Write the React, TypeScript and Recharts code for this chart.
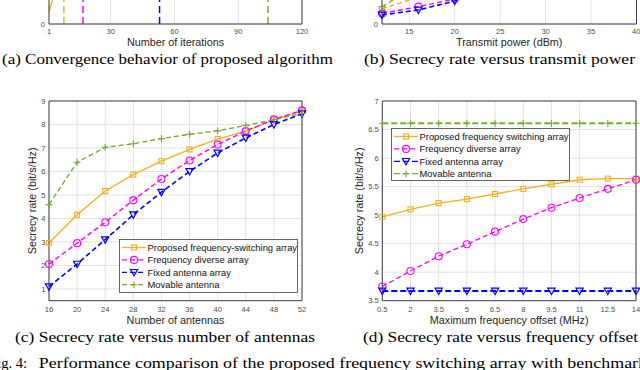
import React from "react";
import { LineChart, Line, XAxis, YAxis, CartesianGrid, ReferenceLine, Legend } from "recharts";

const ORANGE = "#EDB120";
const MAGENTA = "#FF00FF";
const BLUE = "#0000FF";
const GREEN = "#77AC30";
const AXIS = "#404040";
const GRID = "#e2e2e2";
const SANS = "'Liberation Sans', Arial, Helvetica, sans-serif";
const SERIF = "'Liberation Serif', 'Times New Roman', serif";

// (a) convergence behaviour (only the bottom strip is on the page)
const iterTicks = [1, 30, 60, 90, 120];
const iterations = [1, 2, 3, 4, 5, 6, 7, 8, 120];
const convProposed = [0.6, 0.95, 1.35, 2.4, 3.6, 4.5, 5.0, 5.2, 5.2];
const convergedAt = [8, 17, 53, 104];
const convergedColors = [ORANGE, MAGENTA, BLUE, GREEN];
const convYTicks = [0];

// (b) secrecy rate vs transmit power (bottom strip only)
const powerDbm = [12, 16, 20, 24, 28, 32, 36, 40];
const powerTicks = [15, 20, 25, 30, 35, 40];
const powerProposed = [0.75, 1.35, 2.1, 2.9, 3.8, 4.7, 5.6, 6.5];
const powerFda = [0.53, 0.87, 1.25, 1.9, 2.7, 3.6, 4.5, 5.4];
const powerFixed = [0.45, 0.7, 1.15, 1.8, 2.6, 3.5, 4.4, 5.3];
const powerMovable = [0.87, 1.95, 3.0, 4.0, 5.0, 6.0, 7.0, 7.9];
const powerYTicks = [0];

// (c) secrecy rate vs number of antennas
const antennas = [16, 20, 24, 28, 32, 36, 40, 44, 48, 52];
const antProposed = [2.96, 4.16, 5.17, 5.87, 6.44, 6.94, 7.38, 7.72, 8.2, 8.57];
const antFda = [2.06, 2.95, 3.84, 4.78, 5.68, 6.47, 7.15, 7.72, 8.22, 8.6];
const antFixed = [1.1, 2.06, 3.1, 4.16, 5.12, 6.0, 6.79, 7.43, 8.0, 8.46];
const antMovable = [4.59, 6.39, 7.03, 7.18, 7.4, 7.58, 7.73, 7.96, 8.2, 8.47];
const antYTicks = [1, 2, 3, 4, 5, 6, 7, 8, 9];

// (d) secrecy rate vs maximum frequency offset
const offsetMHz = [0.5, 2, 3.5, 5, 6.5, 8, 9.5, 11, 12.5, 14];
const offProposed = [4.97, 5.1, 5.21, 5.28, 5.37, 5.46, 5.54, 5.62, 5.64, 5.64];
const offFda = [3.75, 4.02, 4.28, 4.49, 4.71, 4.93, 5.13, 5.3, 5.46, 5.62];
const offFixed = [3.67, 3.67, 3.67, 3.67, 3.67, 3.67, 3.67, 3.67, 3.67, 3.67];
const offMovable = [6.61, 6.61, 6.61, 6.61, 6.61, 6.61, 6.61, 6.61, 6.61, 6.61];
const offYTicks = [3.5, 4, 4.5, 5, 5.5, 6, 6.5, 7];

type Shape = "square" | "circle" | "triangle" | "plus";
type SeriesDef = { key: string; label: string; color: string; shape: Shape; dash?: string; width: number };

const antSeries: SeriesDef[] = [
  { key: "proposed", label: "Proposed frequency-switching array", color: ORANGE, shape: "square", width: 1.4 },
  { key: "fda", label: "Frequency diverse array", color: MAGENTA, shape: "circle", dash: "5 3", width: 1.4 },
  { key: "fixed", label: "Fixed antenna array", color: BLUE, shape: "triangle", dash: "5 3", width: 1.6 },
  { key: "movable", label: "Movable antenna", color: GREEN, shape: "plus", dash: "5 3", width: 1.4 },
];

const offSeries: SeriesDef[] = [
  { key: "proposed", label: "Proposed frequency switching array", color: ORANGE, shape: "square", width: 1.4 },
  { key: "fda", label: "Frequency diverse array", color: MAGENTA, shape: "circle", dash: "5 3", width: 1.3 },
  { key: "fixed", label: "Fixed antenna array", color: BLUE, shape: "triangle", dash: "6 3", width: 2 },
  { key: "movable", label: "Movable antenna", color: GREEN, shape: "plus", dash: "6 3", width: 2 },
];

const powerSeries: SeriesDef[] = [
  { key: "proposed", label: "Proposed", color: ORANGE, shape: "square", dash: "5 3", width: 1.4 },
  { key: "fda", label: "FDA", color: MAGENTA, shape: "circle", dash: "5 3", width: 1.4 },
  { key: "fixed", label: "Fixed", color: BLUE, shape: "triangle", dash: "5 3", width: 1.6 },
  { key: "movable", label: "Movable", color: GREEN, shape: "plus", dash: "5 3", width: 1.4 },
];

const convData = iterations.map((it, i) => ({ x: it, proposed: convProposed[i] }));
const powerData = powerDbm.map((p, i) => ({
  x: p, proposed: powerProposed[i], fda: powerFda[i], fixed: powerFixed[i], movable: powerMovable[i],
}));
const antData = antennas.map((n, i) => ({
  x: n, proposed: antProposed[i], fda: antFda[i], fixed: antFixed[i], movable: antMovable[i],
}));
const offData = offsetMHz.map((f, i) => ({
  x: f, proposed: offProposed[i], fda: offFda[i], fixed: offFixed[i], movable: offMovable[i],
}));

function Marker({ shape, x, y, color }: { shape: Shape; x: number; y: number; color: string }) {
  if (shape === "square")
    return <rect x={x - 2.5} y={y - 2.5} width={5} height={5} fill="none" stroke={color} strokeWidth={1.1} />;
  if (shape === "circle") return <circle cx={x} cy={y} r={3.5} fill="none" stroke={color} strokeWidth={1.1} />;
  if (shape === "triangle")
    return (
      <path
        d={`M${x - 3.6},${y - 2.8}L${x + 3.6},${y - 2.8}L${x},${y + 3.6}Z`}
        fill="none"
        stroke={color}
        strokeWidth={1.2}
      />
    );
  return <path d={`M${x - 3.5},${y}H${x + 3.5}M${x},${y - 3.5}V${y + 3.5}`} stroke={color} strokeWidth={1.1} />;
}

function LegendBox({ items, width, height }: { items: SeriesDef[]; width: number; height: number }) {
  const rowH = 12.4;
  return (
    <svg width={width} height={height} style={{ display: "block" }}>
      <rect x={0.5} y={0.5} width={width - 1} height={height - 1} fill="#fff" stroke={AXIS} strokeWidth={0.8} />
      {items.map((s, i) => {
        const y = 8.5 + i * rowH;
        return (
          <g key={s.key}>
            <line x1={3} x2={27} y1={y} y2={y} stroke={s.color} strokeWidth={1.3} strokeDasharray={s.dash} />
            <Marker shape={s.shape} x={15} y={y} color={s.color} />
            <text x={28.5} y={y} dominantBaseline="central" fontSize={9.4} fontFamily={SANS} fill="#111">
              {s.label}
            </text>
          </g>
        );
      })}
    </svg>
  );
}

const tickStyle = { fontSize: 7.6, fill: "#4d4d4d", fontFamily: SANS };
const labelStyle = { fontSize: 10.8, fill: "#262626", fontFamily: SANS };

function renderLines(defs: SeriesDef[]) {
  return defs.map((s) => (
    <Line
      key={s.key}
      type="linear"
      dataKey={s.key}
      stroke={s.color}
      strokeWidth={s.width}
      strokeDasharray={s.dash}
      isAnimationActive={false}
      activeDot={false}
      dot={(p: any) => <Marker key={`${s.key}-${p.index}`} shape={s.shape} x={p.cx} y={p.cy} color={s.color} />}
    />
  ));
}

function ConvergenceChart() {
  return (
    <LineChart width={320} height={240} data={convData} margin={{ top: 14, right: 18, bottom: 0, left: 0 }}>
      <CartesianGrid stroke={GRID} />
      <XAxis
        type="number"
        dataKey="x"
        domain={[1, 120]}
        ticks={iterTicks}
        height={26}
        tickSize={0}
        tickMargin={5}
        tick={tickStyle}
        axisLine={{ stroke: AXIS }}
        label={{ value: "Number of iterations", position: "insideBottom", offset: 4, ...labelStyle }}
      />
      <YAxis
        type="number"
        domain={[0, 10]}
        ticks={convYTicks}
        width={49}
        tickSize={0}
        tickMargin={4}
        tick={tickStyle}
        axisLine={{ stroke: AXIS }}
      />
      {convergedAt.map((it, i) => (
        <ReferenceLine key={it} x={it} stroke={convergedColors[i]} strokeWidth={1.5} strokeDasharray="7 4" />
      ))}
      <ReferenceLine x={120} stroke={AXIS} />
      <Line
        type="linear"
        dataKey="proposed"
        stroke={ORANGE}
        strokeWidth={1.4}
        dot={false}
        activeDot={false}
        isAnimationActive={false}
      />
    </LineChart>
  );
}

function PowerChart() {
  return (
    <LineChart width={320} height={240} data={powerData} margin={{ top: 14, right: 3.5, bottom: 0, left: 0 }}>
      <CartesianGrid stroke={GRID} />
      <XAxis
        type="number"
        dataKey="x"
        domain={[12, 40]}
        ticks={powerTicks}
        height={26}
        tickSize={0}
        tickMargin={5}
        tick={tickStyle}
        axisLine={{ stroke: AXIS }}
        label={{ value: "Transmit power (dBm)", position: "insideBottom", offset: 4, ...labelStyle }}
      />
      <YAxis
        type="number"
        domain={[0, 10]}
        ticks={powerYTicks}
        width={62}
        tickSize={0}
        tickMargin={4}
        tick={tickStyle}
        axisLine={{ stroke: AXIS }}
      />
      <ReferenceLine x={40} stroke={AXIS} />
      {renderLines(powerSeries)}
    </LineChart>
  );
}

function AntennaChart() {
  return (
    <LineChart width={320} height={240} data={antData} margin={{ top: 11, right: 18, bottom: 0, left: 0 }}>
      <CartesianGrid stroke={GRID} />
      <XAxis
        type="number"
        dataKey="x"
        domain={[16, 52]}
        ticks={antennas}
        height={29.3}
        tickSize={0}
        tickMargin={5.5}
        tick={tickStyle}
        axisLine={{ stroke: AXIS }}
        label={{ value: "Number of antennas", position: "insideBottom", offset: 6, ...labelStyle }}
      />
      <YAxis
        type="number"
        domain={[0.5, 9]}
        ticks={antYTicks}
        width={49}
        tickSize={0}
        tickMargin={3.5}
        tick={tickStyle}
        axisLine={{ stroke: AXIS }}
        label={{
          value: "Secrecy rate (bit/s/Hz)",
          angle: -90,
          position: "insideLeft",
          offset: 32,
          ...labelStyle,
          style: { textAnchor: "middle" },
        }}
      />
      <ReferenceLine x={52} stroke={AXIS} />
      <ReferenceLine y={9} stroke={AXIS} />
      {renderLines(antSeries)}
      <Legend
        layout="vertical"
        align="center"
        verticalAlign="middle"
        wrapperStyle={{ left: 119, top: 149, width: 179, height: 54 }}
        content={() => <LegendBox items={antSeries} width={179} height={54} />}
      />
    </LineChart>
  );
}

function OffsetChart() {
  return (
    <LineChart width={320} height={240} data={offData} margin={{ top: 11, right: 4, bottom: 0, left: 0 }}>
      <CartesianGrid stroke={GRID} />
      <XAxis
        type="number"
        dataKey="x"
        domain={[0.5, 14]}
        ticks={offsetMHz}
        height={29.3}
        tickSize={0}
        tickMargin={5.5}
        tick={tickStyle}
        axisLine={{ stroke: AXIS }}
        label={{ value: "Maximum frequency offset (MHz)", position: "insideBottom", offset: 6, ...labelStyle }}
      />
      <YAxis
        type="number"
        domain={[3.5, 7]}
        ticks={offYTicks}
        width={62.3}
        tickSize={0}
        tickMargin={3.5}
        tick={tickStyle}
        axisLine={{ stroke: AXIS }}
        label={{
          value: "Secrecy rate (bit/s/Hz)",
          angle: -90,
          position: "insideLeft",
          offset: 39,
          ...labelStyle,
          style: { textAnchor: "middle" },
        }}
      />
      <ReferenceLine x={14} stroke={AXIS} />
      <ReferenceLine y={7} stroke={AXIS} />
      {renderLines(offSeries)}
      <Legend
        layout="vertical"
        align="center"
        verticalAlign="middle"
        wrapperStyle={{ left: 70.7, top: 38.3, width: 179, height: 53 }}
        content={() => <LegendBox items={offSeries} width={179} height={53} />}
      />
    </LineChart>
  );
}

export default function App() {
  return (
    <div
      style={{
        position: "absolute",
        left: 0,
        top: 0,
        width: 640,
        height: 370,
        overflow: "hidden",
        background: "#fff",
      }}
    >
      <div style={{ position: "absolute", left: 0, top: -190 }}>
        <ConvergenceChart />
      </div>
      <div style={{ position: "absolute", left: 320, top: -190 }}>
        <PowerChart />
      </div>
      <div style={{ position: "absolute", left: 0, top: 90 }}>
        <AntennaChart />
      </div>
      <div style={{ position: "absolute", left: 320, top: 90 }}>
        <OffsetChart />
      </div>
      <svg
        width={640}
        height={370}
        style={{ position: "absolute", left: 0, top: 0, pointerEvents: "none" }}
        fontFamily={SERIF}
        fontSize={14}
        fill="#000"
      >
        <text x={2} y={64} textLength={331} lengthAdjust="spacingAndGlyphs">
          (a) Convergence behavior of proposed algorithm
        </text>
        <text x={364} y={64} textLength={271} lengthAdjust="spacingAndGlyphs">
          (b) Secrecy rate versus transmit power
        </text>
        <text x={15} y={342} textLength={300} lengthAdjust="spacingAndGlyphs">
          (c) Secrecy rate versus number of antennas
        </text>
        <text x={363} y={342} textLength={275} lengthAdjust="spacingAndGlyphs">
          (d) Secrecy rate versus frequency offset
        </text>
        <text x={27} y={368} fontSize={14.5} textAnchor="end">
          Fig. 4:
        </text>
        <text x={38.8} y={368} fontSize={14.5} textLength={678} lengthAdjust="spacingAndGlyphs">
          Performance comparison of the proposed frequency switching array with benchmark schemes.
        </text>
      </svg>
    </div>
  );
}
